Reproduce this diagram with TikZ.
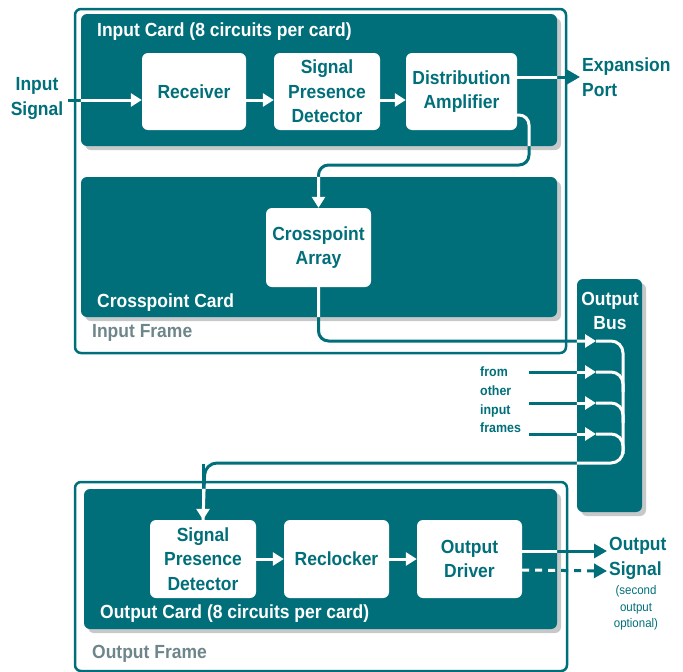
\documentclass[tikz,border=0pt]{standalone}
\usepackage{fontspec}
\setmainfont{Liberation Sans}[FakeStretch=0.92]
\usetikzlibrary{arrows.meta,shadows}
\definecolor{tealc}{HTML}{006F7A}
\definecolor{shad}{HTML}{C6C8CA}
\definecolor{framegray}{HTML}{6E868B}
\newcommand\drawconns{%
  \draw[cn,tip] (insig) -- (insig -| rcv.west);
  \draw[cn,tip] ([yshift=-8.5pt]rcv.east) -- ([yshift=-8.5pt]spd1.west);
  \draw[cn,tip] ([yshift=-8.5pt]spd1.east) -- ([yshift=-8.5pt]da.west);
  \draw[cn,tipB] ([yshift=14.5pt]da.east) -- (exptip);
  \draw[cn,tip,rounded corners=10pt] ([yshift=-23.5pt]da.east) -| (bend1) -| (xp.north);
  \draw[cn,tip,rounded corners=10pt] (xp.south) |- (t0);
  \draw[cn,tip] (f1) -- (t1);
  \draw[cn,tip] (f2) -- (t2);
  \draw[cn,tip] (f3) -- (t3);
  \draw[cn,rounded corners=12pt] (t0) -- (busR0) -- (busR4) -- (busL) -- (spd2.north);
  \draw[cn,tip] ([yshift=-1pt]busL -| spd2.north) -- (spd2.north);
  \draw[cn,rounded corners=12pt] (t1) -| ([yshift=-20pt]t1 -| busR0);
  \draw[cn,rounded corners=12pt] (t2) -| ([yshift=-20pt]t2 -| busR0);
  \draw[cn,rounded corners=12pt] (t3) -| ([yshift=-20pt]t3 -| busR0);
  \draw[cn,tip] (spd2.east) -- (rck.west);
  \draw[cn,tip] (rck.east) -- (od.west);
  \draw[cn,tipB] ([yshift=8pt]od.east) -- (os1);
  \draw[cn,tipB,dash pattern=on 7pt off 6pt] ([yshift=-11pt]od.east) -- (os2);
}
\begin{document}
\begin{tikzpicture}[x=1pt,y=-1pt,
  big/.style={font=\bfseries\fontsize{19}{24.5}\selectfont},
  frame/.style={draw=tealc,line width=2.5pt,rounded corners=6pt,fill=white},
  card/.style={fill=tealc,rounded corners=6pt,inner sep=0pt,
     drop shadow={shadow xshift=4pt,shadow yshift=-4pt,fill=shad,opacity=1}},
  blk/.style={fill=white,rounded corners=6pt,inner sep=0pt,align=center,text=tealc,big},
  cardlbl/.style={anchor=west,inner sep=0pt,text=white,big},
  framelbl/.style={anchor=west,inner sep=0pt,text=framegray,big},
  outlbl/.style={anchor=west,inner sep=0pt,text=tealc,big,align=left},
  cn/.style={line width=3pt,draw=tealc},
  tip/.style={-{Triangle[length=11pt,width=13pt]}},
  tipB/.style={-{Triangle[length=13pt,width=14pt]}}]
\useasboundingbox (0,0) rectangle (683,672);
% frames
\draw[frame] (75,9) rectangle (566,353);
\draw[frame] (75,482) rectangle (567,671);
% cards
\node[card,minimum width=476pt,minimum height=132pt] (incard) at (319,80) {};
\node[card,minimum width=476pt,minimum height=140pt] (xpcard) at (319,247) {};
\node[card,minimum width=473pt,minimum height=140pt] (outcard) at (320.5,559) {};
\node[card,minimum width=65pt,minimum height=233pt] (bus) at (609.5,395.5) {};
% blocks
\node[blk,minimum width=104pt,minimum height=77pt] (rcv) at (194,91.5) {Receiver};
\node[blk,minimum width=106pt,minimum height=77pt] (spd1) at (327,91.5) {Signal\\Presence\\Detector};
\node[blk,minimum width=111pt,minimum height=77pt] (da) at (461.5,91.5) {Distribution\\Amplifier};
\node[blk,minimum width=105pt,minimum height=79pt] (xp) at (318.5,247.5) {Crosspoint\\Array};
\node[blk,minimum width=106pt,minimum height=78pt] (spd2) at (203,559) {Signal\\Presence\\Detector};
\node[blk,minimum width=105pt,minimum height=78pt] (rck) at (336.5,559) {Reclocker};
\node[blk,minimum width=105pt,minimum height=78pt] (od) at (469.5,559) {Output\\Driver};
% labels
\node[cardlbl] (l1) at (97,32) {Input Card (8 circuits per card)};
\node[cardlbl] (l2) at (97,303) {Crosspoint Card};
\node[framelbl] (l3) at (92,333) {Input Frame};
\node[cardlbl] (l4) at (100,614) {Output Card (8 circuits per card)};
\node[framelbl] (l5) at (92,654) {Output Frame};
\node[inner sep=0pt,text=white,big,align=center] (l6) at (610,311) {Output\\Bus};
\node[inner sep=0pt,text=tealc,align=center,big] (inl) at (37,98.5) {Input\\Signal};
\node[outlbl] (expl) at (582,77) {Expansion\\Port};
\node[outlbl] (osl) at (609,558.5) {Output\\Signal};
\node[inner sep=0pt,text=tealc,align=center,font=\fontsize{12.5}{16.5}\selectfont] (opt) at (636,608) {(second\\output\\optional)};
\node[inner sep=0pt,text=tealc,align=left,anchor=west,font=\bfseries\fontsize{13.5}{18.7}\selectfont] (from) at (480,400) {from\\other\\input\\frames};
% coordinates
\coordinate (insig) at (68,100);
\coordinate (exptip) at (580,77);
\coordinate (bend1) at (529,165);
\coordinate (t0) at (596,341);
\coordinate (t1) at (596,372);
\coordinate (t2) at (596,403);
\coordinate (t3) at (596,434);
\coordinate (f1) at (529,372);
\coordinate (f2) at (529,403);
\coordinate (f3) at (529,434);
\coordinate (busR0) at (623,341);
\coordinate (busR4) at (623,463);
\coordinate (busL) at (205,463);
\coordinate (os1) at (607,551);
\coordinate (os2) at (607,571);
% connectors
\drawconns
\begin{scope}
\clip[rounded corners=6pt] (incard.south west) rectangle (incard.north east)
  (xpcard.south west) rectangle (xpcard.north east)
  (outcard.south west) rectangle (outcard.north east)
  (bus.south west) rectangle (bus.north east);
\tikzset{cn/.style={line width=3pt,draw=white}}
\drawconns
\end{scope}
\end{tikzpicture}
\end{document}
